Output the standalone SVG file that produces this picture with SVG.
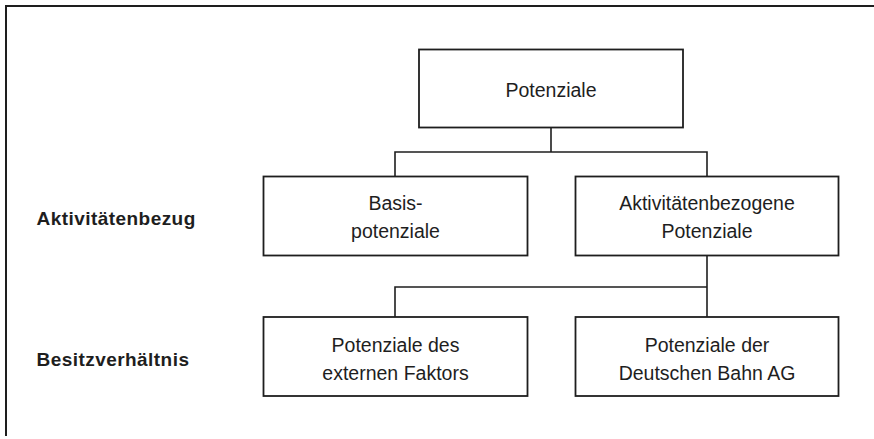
<svg xmlns="http://www.w3.org/2000/svg" width="874" height="439" viewBox="0 0 874 439">
<style>
.box{fill:#fff;stroke:#1e1e1e;stroke-width:1.8}
.t{font-family:"Liberation Sans",Arial,sans-serif;font-size:19.5px;fill:#1e1e1e;text-anchor:middle}
.lb{font-family:"Liberation Sans",Arial,sans-serif;font-size:19px;font-weight:bold;fill:#1e1e1e;letter-spacing:0.45px}
.c{fill:none;stroke:#1e1e1e;stroke-width:1.6}
</style>
<rect width="874" height="439" fill="#fff"/>
<path d="M6,436 V6 H874" fill="none" stroke="#1e1e1e" stroke-width="2"/>
<g id="connectors">
<path class="c" d="M551,128 V152 M395,176 V152 H707 V176"/>
<path class="c" d="M707,256 V317 M395,317 V287 H707"/>
</g>
<g id="n-potenziale"><rect class="box" x="419" y="49.5" width="264" height="78"/><text class="t" x="551" y="96.5">Potenziale</text></g>
<g id="n-basis"><rect class="box" x="263.5" y="176.5" width="264" height="79"/><text class="t" x="395.5" y="210">Basis-</text><text class="t" x="395.5" y="238">potenziale</text></g>
<g id="n-aktiv"><rect class="box" x="575.5" y="176.5" width="263" height="79"/><text class="t" x="707" y="210">Aktivitätenbezogene</text><text class="t" x="707" y="238">Potenziale</text></g>
<g id="n-extern"><rect class="box" x="263.5" y="317" width="264" height="79"/><text class="t" x="395.5" y="352">Potenziale des</text><text class="t" x="395.5" y="380">externen Faktors</text></g>
<g id="n-db"><rect class="box" x="575.5" y="317" width="263" height="79"/><text class="t" x="707" y="352">Potenziale der</text><text class="t" x="707" y="380">Deutschen Bahn AG</text></g>
<g id="labels"><text class="lb" x="36.5" y="225">Aktivitätenbezug</text><text class="lb" x="36.5" y="366">Besitzverhältnis</text></g>
</svg>
